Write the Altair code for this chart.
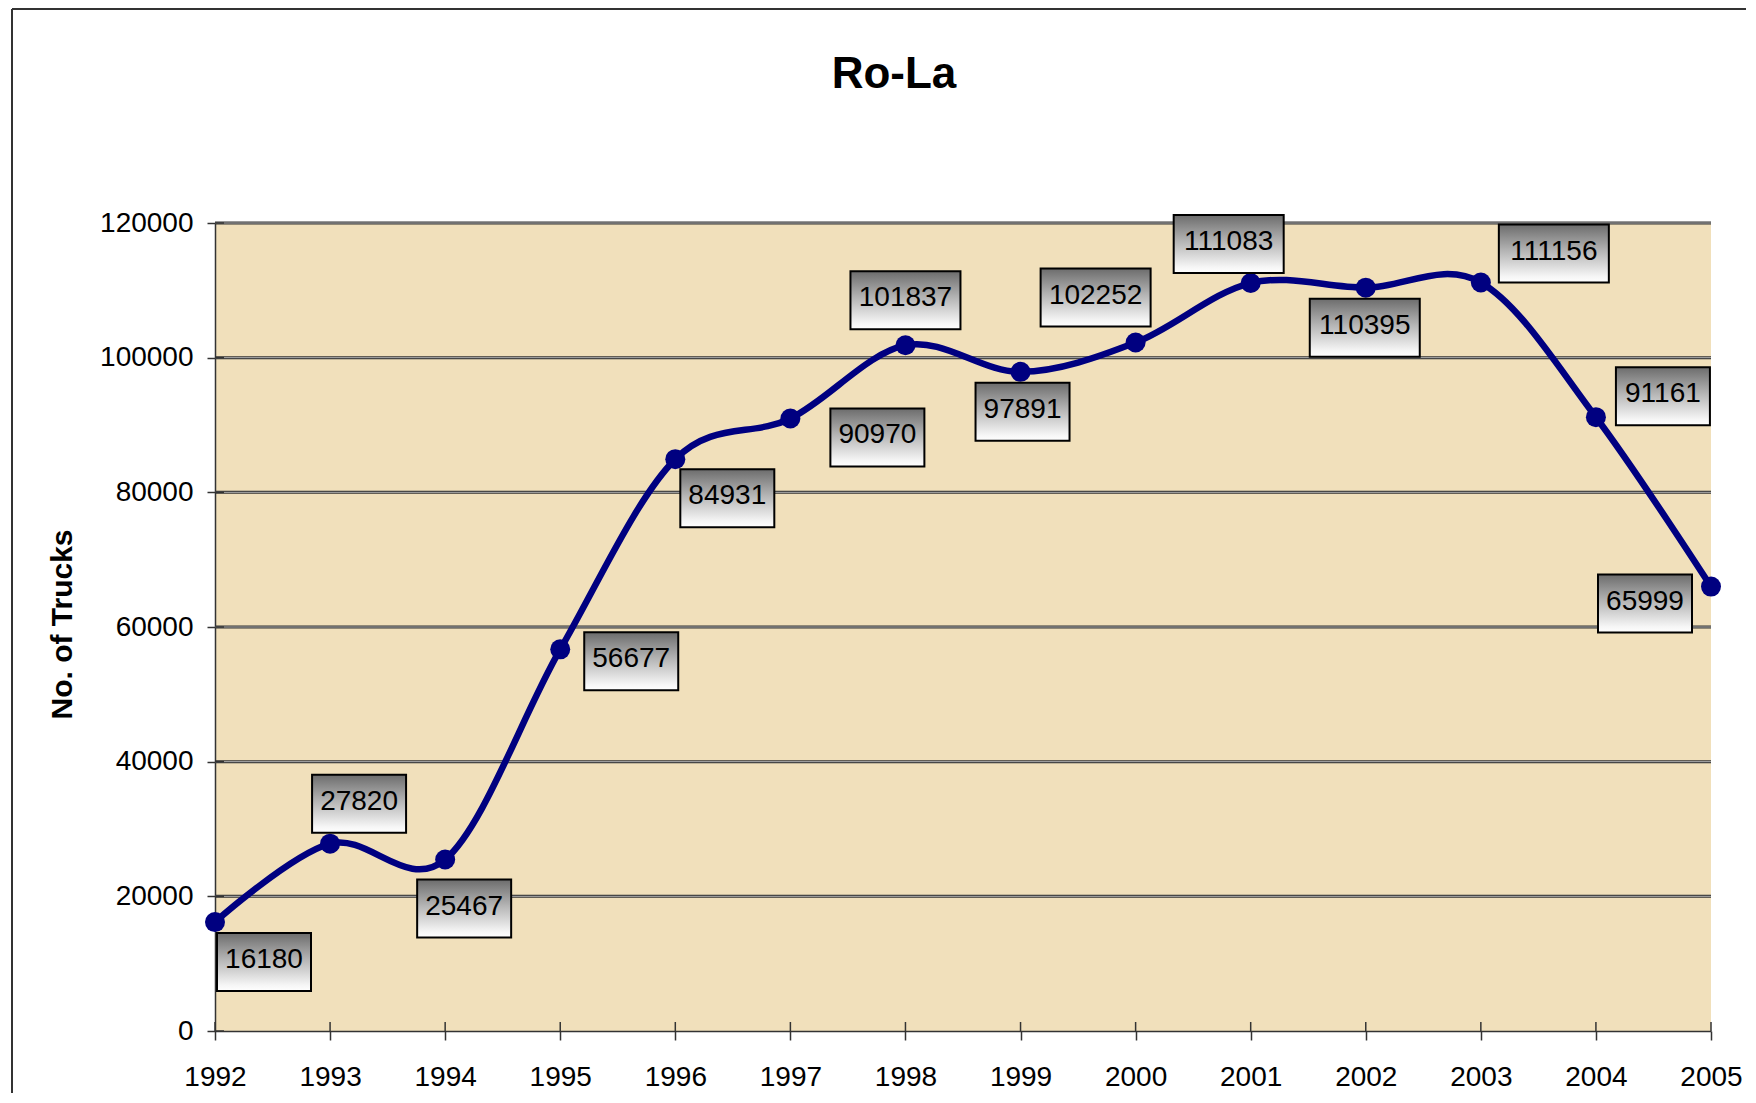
import altair as alt
import pandas as pd

# ---- data ----
years = [1992, 1993, 1994, 1995, 1996, 1997, 1998, 1999, 2000, 2001, 2002, 2003, 2004, 2005]
trucks = [16180, 27820, 25467, 56677, 84931, 90970, 101837, 97891, 102252,
          111083, 110395, 111156, 91161, 65999]
y_ticks = [0, 20000, 40000, 60000, 80000, 100000, 120000]
chart_title = "Ro-La"
y_title = "No. of Trucks"

# ---- layout / style (pixel offsets of each data-label box from its point) ----
label_dx = [49, 29, 19, 71, 52, 87, 0, 2, -40, -22, -1, 73, 67, -66]
label_dy = [40, -40, 49, 12, 39, 19, -45, 40, -45, -39, 40, -29, -21, 17]

W, H = 1496, 808
PAD_L, PAD_T = 207, 215
OX, OY = PAD_L + 8, PAD_T + 8  # page position of plot origin
FONT = "Liberation Sans"
NAVY = "#000080"

df = pd.DataFrame({"year": years, "trucks": trucks,
                   "label": [str(v) for v in trucks]})
grid_df = pd.DataFrame({"trucks": y_ticks[1:]})
ytick_df = pd.DataFrame({"trucks": y_ticks})
one = pd.DataFrame({"a": [0]})

x_scale = alt.Scale(domain=[years[0], years[-1]], nice=False, zero=False)
y_scale = alt.Scale(domain=[y_ticks[0], y_ticks[-1]], nice=False)

x_axis = alt.Axis(values=years, format="d", title=None, grid=False,
                  labelFont=FONT, labelFontSize=28, labelColor="black",
                  labelFlush=False, labelOverlap=False, labelPadding=23,
                  tickSize=9, tickColor="#333333", tickWidth=1.5,
                  domainColor="#333333", domainWidth=1.5)
y_axis = alt.Axis(values=y_ticks, format="d", title=y_title, grid=False,
                  labelFont=FONT, labelFontSize=28, labelColor="black",
                  labelFlush=False, labelOverlap=False, labelPadding=14,
                  tickSize=8, tickColor="#333333", tickWidth=1.5,
                  domainColor="#333333", domainWidth=1.5,
                  titleFont=FONT, titleFontSize=30, titleFontWeight="bold",
                  titleColor="black", titleX=62 - OX, titleY=624 - OY,
                  titleAngle=270, titleAlign="center", titleBaseline="middle")

X = alt.X("year:Q", scale=x_scale, axis=x_axis)
Y = alt.Y("trucks:Q", scale=y_scale, axis=y_axis)

# gridlines (double line look)
grid_dark = alt.Chart(grid_df).mark_rule(color="#333333", strokeWidth=3).encode(y=Y)
grid_light = alt.Chart(grid_df).mark_rule(color="#b0b0b0", strokeWidth=1).encode(y=Y)

line = alt.Chart(df).mark_line(color=NAVY, strokeWidth=6.5,
                               interpolate="cardinal", tension=0).encode(x=X, y=Y)
points = alt.Chart(df).mark_circle(size=400, color=NAVY, opacity=1).encode(x=X, y=Y)

inner_xticks = alt.Chart(df).mark_rule(color="#333333", strokeWidth=1.5).encode(
    x=X, y=alt.value(H - 9), y2=alt.value(H))
inner_yticks = alt.Chart(ytick_df).mark_rule(color="#333333", strokeWidth=1.5).encode(
    y=Y, x=alt.value(0), x2=alt.value(9))

gradient = alt.LinearGradient(
    gradient="linear", x1=0, x2=0, y1=0, y2=1,
    stops=[alt.GradientStop(color="#6c6c6c", offset=0),
           alt.GradientStop(color="#b4b4b4", offset=0.45),
           alt.GradientStop(color="#f6f6f6", offset=0.9),
           alt.GradientStop(color="#ffffff", offset=1)])

layers = [grid_dark, grid_light, inner_yticks, line, points, inner_xticks]
for i, yr in enumerate(years):
    half_w = 55 if len(str(trucks[i])) == 6 else 47
    half_h = 29
    dx, dy = label_dx[i], label_dy[i]
    sub = alt.Chart(df).transform_filter(alt.datum.year == yr)
    box = sub.mark_rect(fill=gradient, stroke="black", strokeWidth=2,
                        xOffset=dx - half_w, x2Offset=dx + half_w,
                        yOffset=dy - half_h, y2Offset=dy + half_h).encode(
        x=X, x2="year:Q", y=Y, y2="trucks:Q")
    txt = sub.mark_text(dx=dx, dy=dy - 2, font=FONT, fontSize=28, color="black",
                        align="center", baseline="middle").encode(
        x=X, y=Y, text="label:N")
    layers += [box, txt]

title = alt.Chart(one).mark_text(font=FONT, fontSize=44, fontWeight="bold",
                                 color="black", align="center", baseline="middle").encode(
    x=alt.value(894 - OX), y=alt.value(75 - OY), text=alt.value(chart_title))

border_left = alt.Chart(one).mark_rule(color="#333333", strokeWidth=2).encode(
    x=alt.value(12 - OX), y=alt.value(-PAD_T + 1), y2=alt.value(H + 400))
border_top = alt.Chart(one).mark_rule(color="#333333", strokeWidth=2).encode(
    y=alt.value(-PAD_T + 1), x=alt.value(12 - OX), x2=alt.value(W + 400))

layers += [title, border_left, border_top]

chart = alt.layer(*layers).properties(
    width=W, height=H,
    autosize=alt.AutoSizeParams(type="none"),
    padding={"left": PAD_L, "top": PAD_T, "right": 35, "bottom": 62},
).configure_view(fill="#F1E0BB", stroke=None)

chart.save("out.html", embed_options={"renderer": "svg", "actions": False})
